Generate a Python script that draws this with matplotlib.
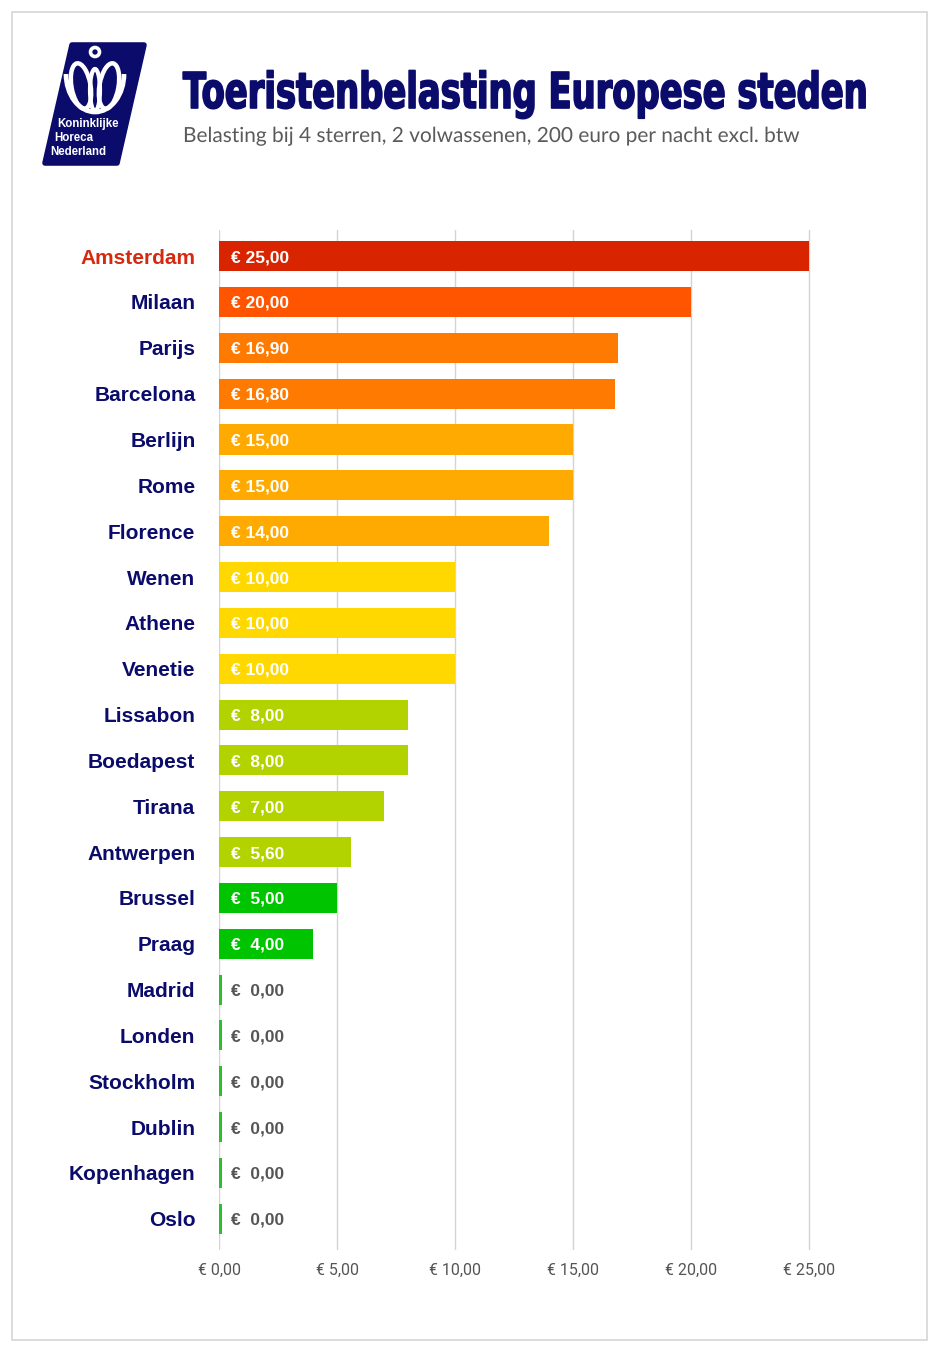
import numpy as np
import matplotlib
matplotlib.use("Agg")
import matplotlib.pyplot as plt
from matplotlib import patheffects
from matplotlib.transforms import Affine2D
from matplotlib.patches import Polygon, Rectangle, Ellipse, Circle, Arc

# ---------------- data ----------------
cities = ["Amsterdam", "Milaan", "Parijs", "Barcelona", "Berlijn", "Rome", "Florence",
          "Wenen", "Athene", "Venetie", "Lissabon", "Boedapest", "Tirana", "Antwerpen",
          "Brussel", "Praag", "Madrid", "Londen", "Stockholm", "Dublin", "Kopenhagen", "Oslo"]
values = [25.00, 20.00, 16.90, 16.80, 15.00, 15.00, 14.00,
          10.00, 10.00, 10.00, 8.00, 8.00, 7.00, 5.60,
          5.00, 4.00, 0.00, 0.00, 0.00, 0.00, 0.00, 0.00]
bar_colors = ["#D92400", "#FF5500", "#FF7A00", "#FF7A00", "#FFAA00", "#FFAA00", "#FFAA00",
              "#FFD800", "#FFD800", "#FFD800", "#B3D300", "#B3D300", "#B3D300", "#B3D300",
              "#00C400", "#00C400", "#2EBF2E", "#2EBF2E", "#2EBF2E", "#2EBF2E", "#2EBF2E", "#2EBF2E"]
xticks = [0, 5, 10, 15, 20, 25]
xtick_labels = ["€ 0,00", "€ 5,00", "€ 10,00", "€ 15,00", "€ 20,00", "€ 25,00"]
title = "Toeristenbelasting Europese steden"
subtitle = "Belasting bij 4 sterren, 2 volwassenen, 200 euro per nacht excl. btw"
logo_lines = ["Koninklijke", "Horeca", "Nederland"]

NAVY = "#0B0B6B"
GRAY = "#555555"
W, H = 939, 1352

plt.rcParams['font.family'] = ['Liberation Sans', 'DejaVu Sans']

fig = plt.figure(figsize=(W / 100, H / 100), dpi=100)
fig.patch.set_facecolor("white")

# background overlay in pixel coordinates
bg = fig.add_axes([0, 0, 1, 1])
bg.set_xlim(0, W)
bg.set_ylim(H, 0)
bg.axis("off")
bg.add_patch(Rectangle((12, 12), 915, 1328, fill=False, edgecolor="#D6D6D6", lw=1.2))

# logo
bg.add_patch(Polygon([(72, 45), (144, 45), (117, 163), (45, 163)], closed=True,
                     facecolor=NAVY, edgecolor=NAVY, lw=4, joinstyle="round"))
bg.add_patch(Arc((95, 74), 58, 76, theta1=0, theta2=180, edgecolor="white", lw=3.4, zorder=3))
bg.add_patch(Ellipse((81, 86), 19, 46, angle=-10, fill=False, edgecolor="white", lw=3.2, zorder=3))
bg.add_patch(Ellipse((109, 86), 19, 46, angle=10, fill=False, edgecolor="white", lw=3.2, zorder=3))
bg.add_patch(Ellipse((95, 90), 10, 42, fill=False, edgecolor="white", lw=3.0, zorder=3))
bg.add_patch(Circle((95, 52), 4.5, fill=False, edgecolor="white", lw=2.6, zorder=3))
for k, (txt, lx) in enumerate(zip(logo_lines, [57, 54, 50])):
    bg.text(lx, 124 + k * 14, txt, color="white", fontsize=8.3, fontweight="bold",
            va="center", ha="left")

# title & subtitle
TITLE_LEFT, TITLE_RIGHT, TITLE_BASE, TITLE_CAP = 183, 868, 108, 36
t_title = bg.text(TITLE_LEFT, TITLE_BASE, title, color=NAVY, fontsize=20, fontweight="bold",
                  family=['DejaVu Sans'], ha="left", va="baseline")
t_sub = bg.text(183, 142, subtitle, color="#5A5A5A", fontsize=15,
                family=['Lato', 'Liberation Sans', 'DejaVu Sans'], ha="left", va="baseline")


class Reshape(patheffects.AbstractPathEffect):
    """Scale the glyph outlines around an anchor (keeps the text a real text)."""
    def __init__(self, sx, sy, x0, y0, stroke=0.0, color=None):
        super().__init__((0, 0))
        self.sx, self.sy, self.x0, self.y0 = sx, sy, x0, y0
        self.stroke, self.color = stroke, color

    def draw_path(self, renderer, gc, tpath, affine, rgbFace=None):
        aff = affine + (Affine2D().translate(-self.x0, -self.y0)
                        .scale(self.sx, self.sy).translate(self.x0, self.y0))
        gc0 = renderer.new_gc()
        gc0.copy_properties(gc)
        if self.stroke > 0:
            gc0.set_linewidth(self.stroke)
            gc0.set_foreground(self.color)
            gc0.set_joinstyle("round")
        renderer.draw_path(gc0, tpath, aff, rgbFace)
        gc0.restore()


# main axes
px_per_unit = (809 - 219) / 25.0
left_px = 219
ax_w_units = 26.5
ax = fig.add_axes([left_px / W, (H - 1250) / H, ax_w_units * px_per_unit / W, 1020 / H])
y = np.arange(len(cities))
draw_vals = np.maximum(np.array(values), 0.13)
ax.barh(y, draw_vals, height=0.655, color=bar_colors, zorder=3)
ax.set_xlim(0, ax_w_units)
ax.set_ylim(21.68, -0.57)
ax.set_xticks(xticks)
ax.set_xticklabels(xtick_labels, color=GRAY, fontsize=11.5,
                   family=['Liberation Sans Narrow', 'Roboto', 'Liberation Sans'])
ax.set_yticks(y)
ax.set_yticklabels(cities, fontsize=15, fontweight="bold")
for lab, c in zip(ax.get_yticklabels(), cities):
    lab.set_color("#D42B10" if c == "Amsterdam" else NAVY)
ax.tick_params(axis="y", length=0, pad=17)
ax.tick_params(axis="x", length=0, pad=9)
ax.grid(axis="x", color="#D4D4D4", lw=1, zorder=0)
for s in ax.spines.values():
    s.set_visible(False)

for i, v in enumerate(values):
    num = f"{v:.2f}".replace(".", ",")
    lab = ("€ " if v >= 10 else "€  ") + num
    col = "white" if v > 0 else GRAY
    ax.annotate(lab, xy=(0, i), xytext=(12, 0), textcoords="offset pixels",
                va="center_baseline", ha="left", fontsize=12.5, fontweight="bold",
                color=col, zorder=4)

# fit title: natural width = target width, then stretch vertically for a condensed heavy look
fig.canvas.draw()
r = fig.canvas.get_renderer()
wpx = t_title.get_window_extent(renderer=r).width
fs = 20 * (TITLE_RIGHT - TITLE_LEFT) / wpx
t_title.set_fontsize(fs)
fs_px = fs * 100 / 72
sy = TITLE_CAP / (0.729 * fs_px)
t_title.set_path_effects([Reshape(1.0, sy, TITLE_LEFT, H - TITLE_BASE, stroke=1.2, color=NAVY)])

fig.canvas.draw()
wpx = t_sub.get_window_extent(renderer=r).width
sxs = min(1.0, (803 - 183) / wpx)
t_sub.set_path_effects([Reshape(sxs, 1.0, 183, H - 142)])

fig.savefig("out.png", dpi=100, facecolor="white")
